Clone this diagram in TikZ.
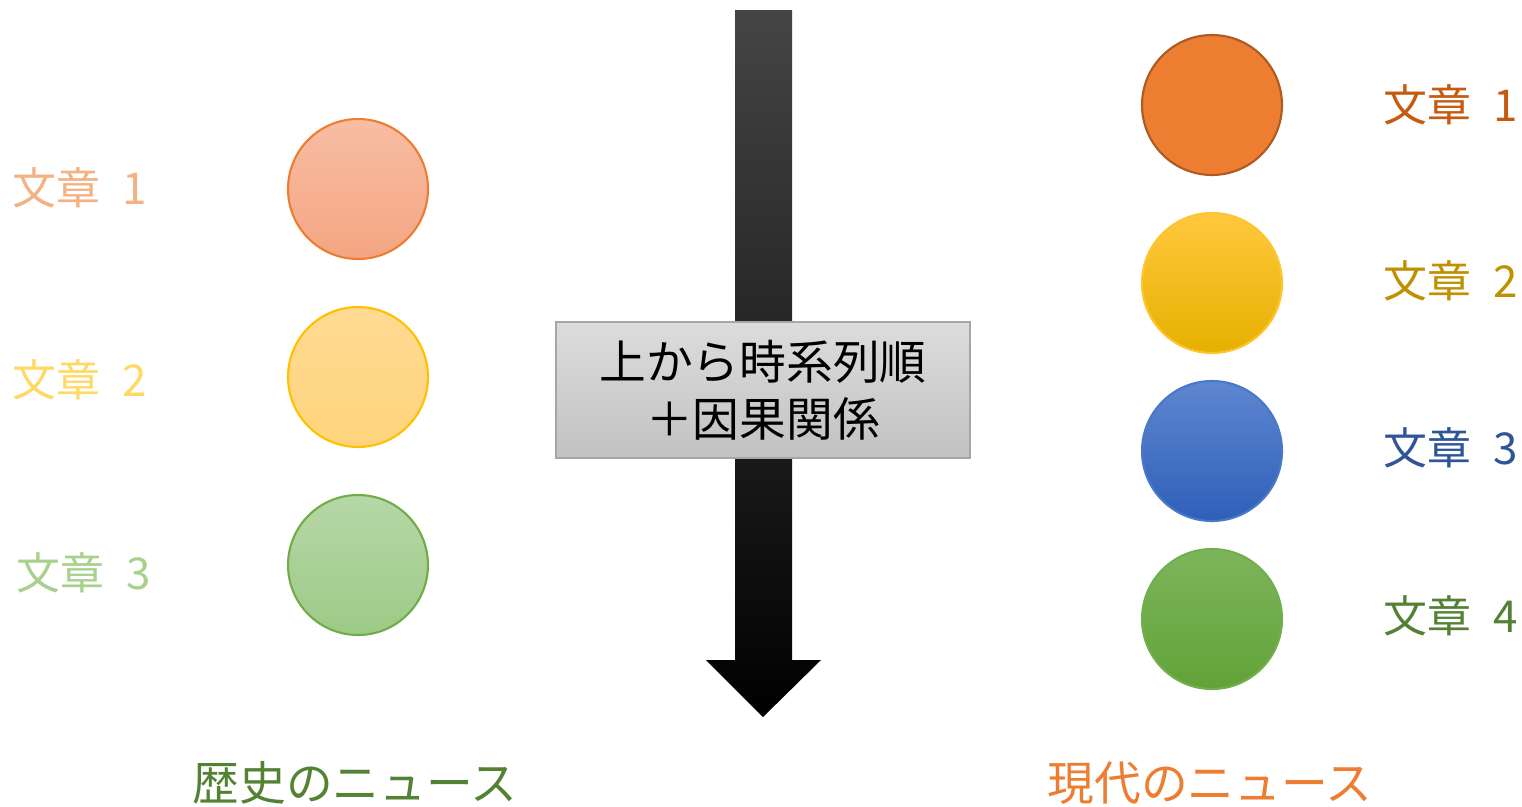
\documentclass[tikz,border=0pt]{standalone}
\usepackage{fontspec}
\setmainfont{Noto Sans CJK JP}
\definecolor{lOneT}{HTML}{F4B183}
\definecolor{lTwoT}{HTML}{FFD966}
\definecolor{lThreeT}{HTML}{A9D18E}
\definecolor{rOneT}{HTML}{C55A11}
\definecolor{rTwoT}{HTML}{BF9000}
\definecolor{rThreeT}{HTML}{2F5597}
\definecolor{rFourT}{HTML}{548235}
\definecolor{accOrange}{HTML}{ED7D31}
\definecolor{accGold}{HTML}{FFC000}
\definecolor{accGreen}{HTML}{70AD47}
\definecolor{accBlue}{HTML}{4472C4}
\definecolor{lOneTop}{HTML}{F8BDA3}
\definecolor{lOneBot}{HTML}{F4A582}
\definecolor{lTwoTop}{HTML}{FFDA93}
\definecolor{lTwoBot}{HTML}{FFD47C}
\definecolor{lThreeTop}{HTML}{B6D7A8}
\definecolor{lThreeBot}{HTML}{9DCA86}
\definecolor{rOneLine}{HTML}{AE5A21}
\definecolor{rTwoLine}{HTML}{FFC42E}
\definecolor{rTwoTop}{HTML}{FFC83D}
\definecolor{rTwoBot}{HTML}{E6B000}
\definecolor{rThreeLine}{HTML}{4A78C8}
\definecolor{rThreeTop}{HTML}{5E87D0}
\definecolor{rThreeBot}{HTML}{2F5FB9}
\definecolor{rFourLine}{HTML}{72AE4C}
\definecolor{rFourTop}{HTML}{7DB55C}
\definecolor{rFourBot}{HTML}{62A237}
\definecolor{arrTop}{HTML}{454545}
\definecolor{boxLine}{HTML}{A6A6A6}
\definecolor{boxTop}{HTML}{DCDCDC}
\definecolor{boxBot}{HTML}{C2C2C2}
\newcommand{\numgap}{\hspace{0.5em}}
\tikzset{
  dot/.style={circle, minimum size=2.8cm, inner sep=0pt, line width=1.2pt},
  lbl/.style={anchor=west, inner sep=0pt, font=\fontsize{25}{30}\selectfont},
  ttl/.style={inner sep=0pt, font=\fontsize{26.6}{32}\selectfont},
}
\begin{document}
\begin{tikzpicture}[x=0.02cm,y=-0.02cm]
\useasboundingbox (0,0) rectangle (1522,806);
% left column
\node[dot, draw=accOrange, top color=lOneTop, bottom color=lOneBot] (l1) at (358,189) {};
\node[dot, draw=accGold, top color=lTwoTop, bottom color=lTwoBot] (l2) at (358,377) {};
\node[dot, draw=accGreen, top color=lThreeTop, bottom color=lThreeBot] (l3) at (358,565) {};
\node[lbl, text=lOneT] (tl1) at (12,188) {文章\numgap 1};
\node[lbl, text=lTwoT] (tl2) at (12,380) {文章\numgap 2};
\node[lbl, text=lThreeT] (tl3) at (16,573) {文章\numgap 3};
% right column
\node[dot, draw=rOneLine, fill=accOrange] (r1) at (1212,105) {};
\node[dot, draw=rTwoLine, top color=rTwoTop, middle color=accGold, bottom color=rTwoBot] (r2) at (1212,283) {};
\node[dot, draw=rThreeLine, top color=rThreeTop, middle color=accBlue, bottom color=rThreeBot] (r3) at (1212,451) {};
\node[dot, draw=rFourLine, top color=rFourTop, middle color=accGreen, bottom color=rFourBot] (r4) at (1212,619) {};
\node[lbl, text=rOneT] (tr1) at (1383,105) {文章\numgap 1};
\node[lbl, text=rTwoT] (tr2) at (1383,281) {文章\numgap 2};
\node[lbl, text=rThreeT] (tr3) at (1383,448) {文章\numgap 3};
\node[lbl, text=rFourT] (tr4) at (1383,616) {文章\numgap 4};
% arrow
\shade[top color=arrTop, bottom color=black]
  (735,10) -- (792,10) -- (792,660) -- (821,660) -- (763,717) -- (706,660) -- (735,660) -- cycle;
% box
\node[draw=boxLine, line width=1pt, top color=boxTop, bottom color=boxBot,
      minimum width=8.28cm, minimum height=2.72cm, align=center, inner sep=0pt,
      font=\fontsize{26.6}{32.3}\selectfont] (box) at (763,390) {上から時系列順\\＋因果関係};
% titles
\node[ttl, text=rFourT] (hist) at (355,783) {歴史のニュース};
\node[ttl, text=accOrange] (now) at (1210,783) {現代のニュース};
\end{tikzpicture}
\end{document}
